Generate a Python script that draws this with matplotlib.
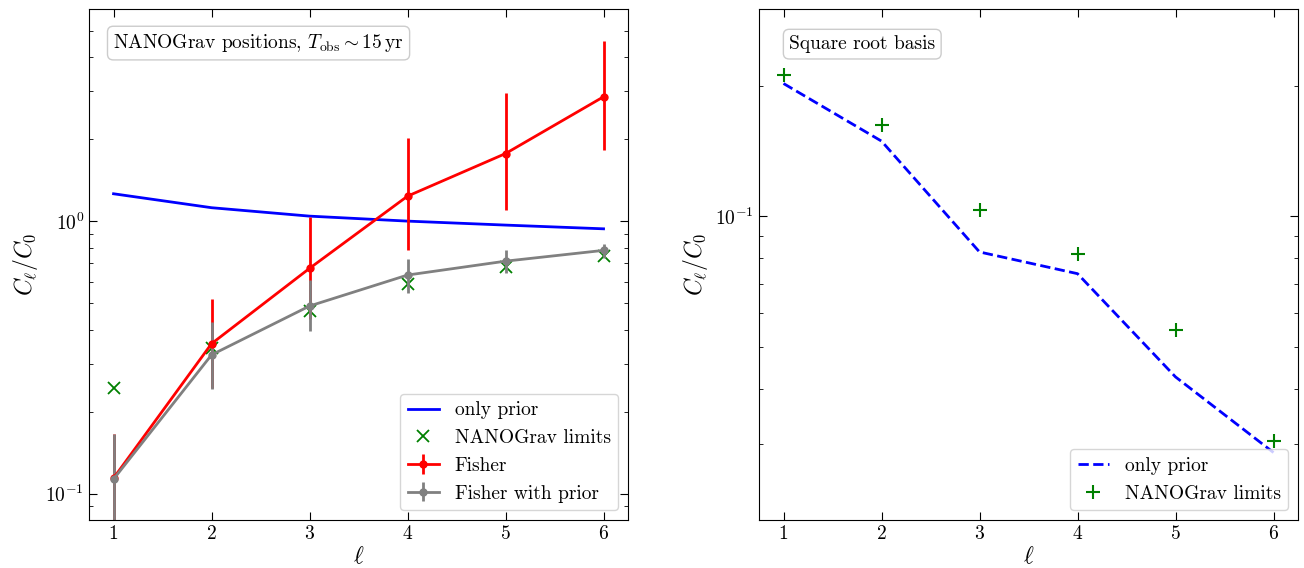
import numpy as np
import matplotlib
matplotlib.use('Agg')
import matplotlib.pyplot as plt

plt.rcParams['font.family'] = 'serif'
plt.rcParams['font.serif'] = ['cmr10']
plt.rcParams['mathtext.fontset'] = 'cm'
plt.rcParams['axes.formatter.use_mathtext'] = True
plt.rcParams['font.size'] = 14
plt.rcParams['axes.labelsize'] = 17
plt.rcParams['legend.handlelength'] = 1.6
plt.rcParams['xtick.direction'] = 'in'
plt.rcParams['ytick.direction'] = 'in'
plt.rcParams['xtick.top'] = True
plt.rcParams['ytick.right'] = True

ell = [1, 2, 3, 4, 5, 6]

# NANOGrav positions
prior_only = [1.26, 1.12, 1.043, 1.0, 0.967, 0.937]
nanograv_lim = [0.245, 0.343, 0.468, 0.589, 0.678, 0.744]
fisher = [0.114, 0.355, 0.671, 1.235, 1.77, 2.86]
fisher_lo = [0.077, 0.244, 0.436, 0.781, 1.097, 1.82]
fisher_hi = [0.166, 0.516, 1.034, 2.02, 2.95, 4.60]
fisher_prior = [0.113, 0.323, 0.488, 0.634, 0.713, 0.781]
fisher_prior_lo = [0.077, 0.243, 0.395, 0.543, 0.646, 0.734]
fisher_prior_hi = [0.165, 0.427, 0.608, 0.724, 0.781, 0.821]

# square root basis
sqrt_prior = [0.2022, 0.149, 0.0828, 0.0738, 0.0427, 0.0286]
sqrt_nanograv = [0.211, 0.1623, 0.1032, 0.0818, 0.0548, 0.0304]

fig, (ax1, ax2) = plt.subplots(1, 2, figsize=(13.04, 5.68), dpi=100)
fig.subplots_adjust(left=0.0683, right=0.9954, bottom=0.0845, top=0.984, wspace=0.243)

ax1.plot(ell, prior_only, color='blue', lw=2, label='only prior')
ax1.plot(ell, nanograv_lim, 'x', color='green', ms=9, mew=1.3, label='NANOGrav limits')
f = np.array(fisher)
fp = np.array(fisher_prior)
ax1.errorbar(ell, f, yerr=[f - np.array(fisher_lo), np.array(fisher_hi) - f],
             color='red', marker='o', ms=5, lw=2, elinewidth=2, label='Fisher')
ax1.errorbar(ell, fp, yerr=[fp - np.array(fisher_prior_lo), np.array(fisher_prior_hi) - fp],
             color='gray', marker='o', ms=5, lw=2, elinewidth=2, label='Fisher with prior')
ax1.set_yscale('log')
ax1.set_ylim(0.08, 6)
ax1.set_xlim(0.75, 6.25)
ax1.set_xlabel(r'$\ell$', labelpad=2)
ax1.set_ylabel(r'$C_\ell/C_0$')
ax1.legend(loc='lower right')
ax1.text(0.045, 0.955, r'NANOGrav positions, $T_{\rm obs}\sim 15\,{\rm yr}$',
         transform=ax1.transAxes, va='top', ha='left',
         bbox=dict(boxstyle='round', fc='white', ec='0.8'))

ax2.plot(ell, sqrt_prior, '--', color='blue', lw=2, label='only prior')
ax2.plot(ell, sqrt_nanograv, '+', color='green', ms=10, mew=1.5, label='NANOGrav limits')
ax2.set_yscale('log')
ax2.set_ylim(0.02, 0.3)
ax2.set_xlim(0.75, 6.25)
ax2.set_xlabel(r'$\ell$', labelpad=2)
ax2.set_ylabel(r'$C_\ell/C_0$')
ax2.legend(loc='lower right')
ax2.text(0.056, 0.949, 'Square root basis',
         transform=ax2.transAxes, va='top', ha='left',
         bbox=dict(boxstyle='round', fc='white', ec='0.8'))

for ax in (ax1, ax2):
    ax.set_xticks(ell)
    ax.tick_params(which='major', length=6)
    ax.tick_params(which='minor', length=3)

fig.savefig('out.png')
